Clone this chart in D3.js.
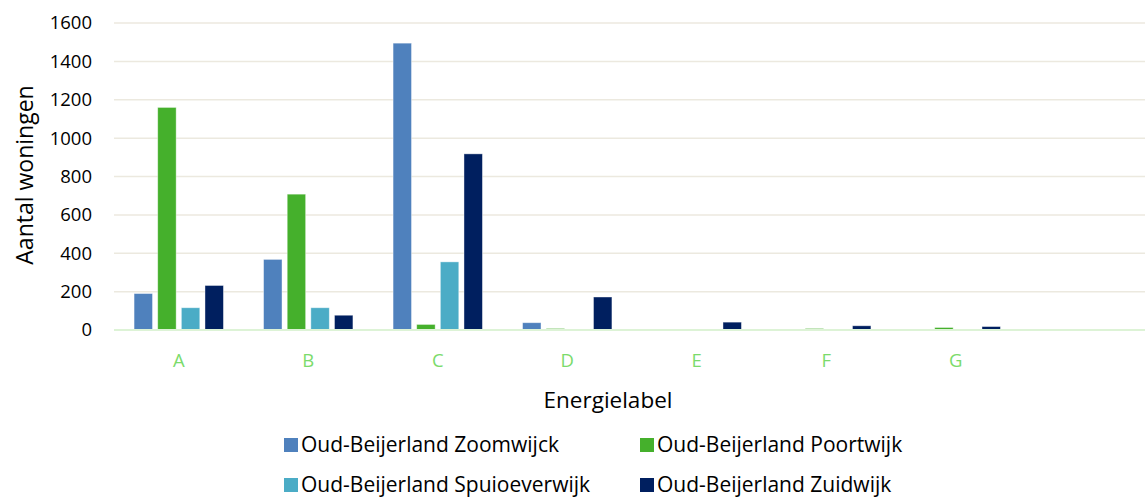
<!DOCTYPE html>
<html>
<head>
<meta charset="utf-8">
<script src="https://cdn.jsdelivr.net/npm/d3@7"></script>
<style>
  body { margin: 0; background: #fff; }
  svg { font-family: "Open Sans", sans-serif; }
</style>
</head>
<body>
<div id="chart"></div>
<script>
var labels = ["A", "B", "C", "D", "E", "F", "G", ""];
var seriesNames = ["Oud-Beijerland Zoomwijck", "Oud-Beijerland Poortwijk", "Oud-Beijerland Spuioeverwijk", "Oud-Beijerland Zuidwijk"];
var zoomwijck = [190, 368, 1495, 38, 3, 0, 0, 0];
var poortwijk = [1160, 708, 29, 8, 0, 8, 13, 0];
var spuioeverwijk = [116, 116, 355, 3, 0, 0, 0, 0];
var zuidwijk = [232, 77, 918, 172, 41, 22, 18, 0];
var yTicks = [0, 200, 400, 600, 800, 1000, 1200, 1400, 1600];
var colors = ["#4F81BD", "#45B02C", "#4BACC6", "#001F5F"];

var allSeries = [zoomwijck, poortwijk, spuioeverwijk, zuidwijk];

var width = 1145, height = 503;
var margin = {top: 23, right: -5, bottom: 173, left: 114};
var chartWidth = width - margin.left - margin.right;
var chartHeight = height - margin.top - margin.bottom;

var svg = d3.select('#chart').append('svg')
  .attr('width', width)
  .attr('height', height);

var g = svg.append('g')
  .attr('transform', `translate(${margin.left}, ${margin.top})`);

var xScale = d3.scaleBand().domain(labels).range([0, chartWidth]).paddingInner(0.31).paddingOuter(0.155);
var xInner = d3.scaleBand().domain(d3.range(seriesNames.length)).range([0, xScale.bandwidth()]).paddingInner(0.22);
var yScale = d3.scaleLinear().domain([0, 1600]).range([chartHeight, 0]);

// gridlines
g.selectAll('.grid')
  .data(yTicks.slice(1))
  .enter().append('line')
  .attr('x1', 0).attr('x2', chartWidth)
  .attr('y1', d => yScale(d)).attr('y2', d => yScale(d))
  .attr('stroke', '#ECE9DF').attr('stroke-width', 1.5);

// y tick labels
var yAxis = d3.axisLeft(yScale).tickValues(yTicks).tickFormat(d3.format('d')).tickSize(0).tickPadding(22);
var yg = g.append('g').call(yAxis);
yg.select('.domain').remove();
yg.selectAll('text').attr('font-size', 18.5).attr('fill', '#000').style('font-family', '"Open Sans", sans-serif');

// bars
allSeries.forEach(function(values, si) {
  g.selectAll('.bar' + si)
    .data(values.map((v, i) => ({label: labels[i], value: v})))
    .enter().append('rect')
    .attr('x', d => xScale(d.label) + xInner(si))
    .attr('y', d => yScale(d.value))
    .attr('width', xInner.bandwidth())
    .attr('height', d => chartHeight - yScale(d.value))
    .attr('fill', colors[si])
    .attr('stroke', '#ffffff').attr('stroke-opacity', 0.5).attr('stroke-width', 0.8);
});

// baseline
g.append('line')
  .attr('x1', 0).attr('x2', chartWidth)
  .attr('y1', chartHeight).attr('y2', chartHeight)
  .attr('stroke', '#DDF3D6').attr('stroke-width', 2);

// x axis labels
var xAxis = d3.axisBottom(xScale).tickSize(0).tickPadding(24);
var xg = g.append('g').attr('transform', `translate(0,${chartHeight})`).call(xAxis);
xg.select('.domain').remove();
xg.selectAll('text').attr('font-size', 18.5).attr('fill', '#7BDB6B').style('font-family', '"Open Sans", sans-serif');

// axis titles
svg.append('text')
  .attr('transform', 'translate(33, 175) rotate(-90)')
  .attr('text-anchor', 'middle')
  .attr('font-size', 23)
  .attr('fill', '#000')
  .text('Aantal woningen');

svg.append('text')
  .attr('x', 608).attr('y', 408)
  .attr('text-anchor', 'middle')
  .attr('font-size', 22.5)
  .attr('fill', '#000')
  .text('Energielabel');

// legend
var legendPos = [[284, 452], [640, 452], [284, 492], [640, 492]];
var legend = svg.selectAll('.legend')
  .data(seriesNames)
  .enter().append('g')
  .attr('transform', (d, i) => `translate(${legendPos[i][0]}, ${legendPos[i][1]})`);
legend.append('rect')
  .attr('x', 0).attr('y', -14).attr('width', 14).attr('height', 14)
  .attr('fill', (d, i) => colors[i]);
legend.append('text')
  .attr('x', 17).attr('y', 0)
  .attr('font-size', 21)
  .attr('fill', '#000')
  .text(d => d);
</script>
</body>
</html>
